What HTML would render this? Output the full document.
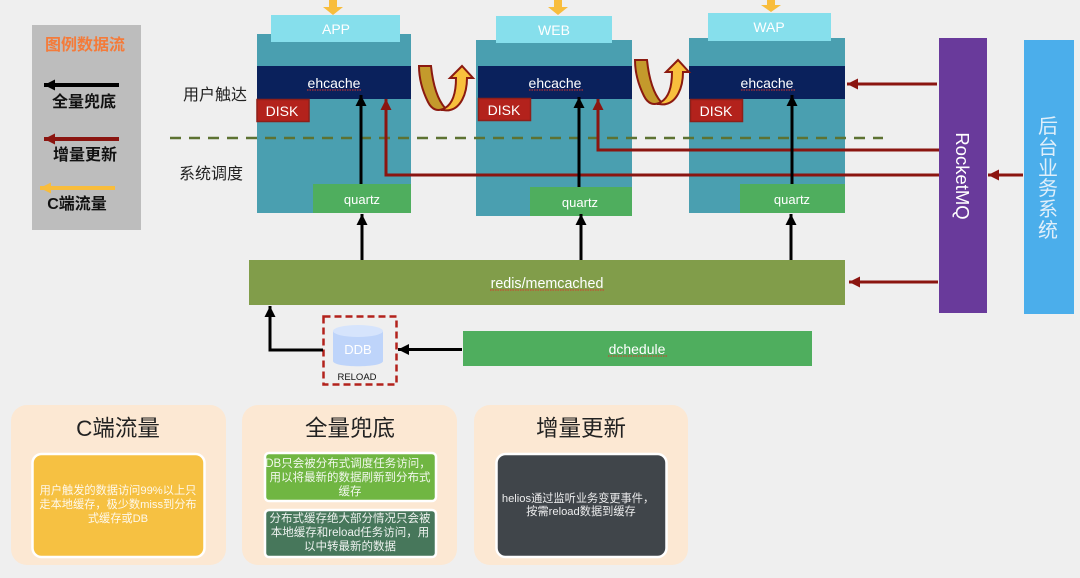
<!DOCTYPE html>
<html><head><meta charset="utf-8"><style>
html,body{margin:0;padding:0;background:#efefef}
svg{display:block;filter:blur(.35px)}
text{font-family:"Liberation Sans","Noto Sans CJK SC",sans-serif}
.w{fill:#fff;text-anchor:middle}
.sq{stroke:#d8362c;stroke-width:1;stroke-dasharray:1.5 1;fill:none}
.c{fill:#fff;font-size:11.5px;text-anchor:middle;opacity:.9}
.t{fill:#222;font-size:22.5px;text-anchor:middle}
</style></head><body>
<svg xmlns="http://www.w3.org/2000/svg" width="1080" height="578" viewBox="0 0 1080 578">
<defs>
<marker id="b" markerUnits="userSpaceOnUse" markerWidth="12" markerHeight="11" refX="11" refY="5.5" orient="auto"><path d="M0,0L11,5.5L0,11Z" fill="#000"/></marker>
<marker id="r" markerUnits="userSpaceOnUse" markerWidth="12" markerHeight="11" refX="11" refY="5.5" orient="auto"><path d="M0,0L11,5.5L0,11Z" fill="#8b1510"/></marker>
<marker id="y" markerUnits="userSpaceOnUse" markerWidth="12" markerHeight="11" refX="11" refY="5.5" orient="auto"><path d="M0,0L11,5.5L0,11Z" fill="#f8bd3c"/></marker>
<g id="u"><path d="M419,66L431,66C433,85 438,100 445,108C438,112 432,110 428,102C422,90 419,78 419,66Z" fill="#c49a2c" stroke="#8b1a10" stroke-width="2"/><path d="M445,108C452,104 456,95 456,78L450,78L462,66L473,78L467,78C467,95 460,108 450,110C447,111 445,110 443,110Z" fill="#f8c03d" stroke="#8b1a10" stroke-width="2"/></g>
</defs>
<rect width="1080" height="578" fill="#efefef"/>

<!-- legend -->
<rect x="32" y="25" width="109" height="205" fill="#bdbdbd"/>
<text x="85" y="50" font-size="16" font-weight="bold" fill="#f47b3a" text-anchor="middle">图例数据流</text>
<line x1="119" y1="85" x2="44" y2="85" stroke="#000" stroke-width="4" marker-end="url(#b)"/>
<text x="84" y="107" font-size="16" font-weight="bold" fill="#111" text-anchor="middle">全量兜底</text>
<line x1="119" y1="139" x2="44" y2="139" stroke="#8b1510" stroke-width="4" marker-end="url(#r)"/>
<text x="85" y="160" font-size="16" font-weight="bold" fill="#111" text-anchor="middle">增量更新</text>
<line x1="115" y1="188" x2="40" y2="188" stroke="#f8bd3c" stroke-width="4" marker-end="url(#y)"/>
<text x="77" y="209" font-size="16" font-weight="bold" fill="#111" text-anchor="middle">C端流量</text>

<text x="215" y="100" font-size="16" fill="#222" text-anchor="middle">用户触达</text>
<text x="211" y="179" font-size="16" fill="#222" text-anchor="middle">系统调度</text>

<!-- box 1 -->
<rect x="257" y="34" width="154" height="179" fill="#4a9fb0"/>
<rect x="271" y="15" width="129" height="27" fill="#86dfec"/>
<text class="w" x="336" y="34" font-size="14">APP</text>
<rect x="257" y="66" width="154" height="33" fill="#0a215c"/>
<text class="w" x="334" y="88" font-size="14">ehcache</text>
<line class="sq" x1="307" y1="90" x2="361" y2="90"/>
<rect x="257" y="99.500" width="52" height="22" fill="#b3221c" stroke="#8e1f19" stroke-width="1.500"/>
<text class="w" x="282" y="116" font-size="14">DISK</text>
<rect x="313" y="184" width="98" height="29" fill="#4fae5e"/>
<text class="w" x="362" y="204" font-size="13">quartz</text>

<!-- box 2 -->
<rect x="476" y="40" width="156" height="176" fill="#4a9fb0"/>
<rect x="496" y="16" width="116" height="27" fill="#86dfec"/>
<text class="w" x="554" y="35" font-size="14">WEB</text>
<rect x="478" y="66" width="154" height="33" fill="#0a215c"/>
<text class="w" x="555" y="88" font-size="14">ehcache</text>
<line class="sq" x1="529" y1="90" x2="583" y2="90"/>
<rect x="478.500" y="98.500" width="52" height="22" fill="#b3221c" stroke="#8e1f19" stroke-width="1.500"/>
<text class="w" x="504" y="115" font-size="14">DISK</text>
<rect x="530" y="187" width="102" height="29" fill="#4fae5e"/>
<text class="w" x="580" y="207" font-size="13">quartz</text>

<!-- box 3 -->
<rect x="689" y="38" width="156" height="175" fill="#4a9fb0"/>
<rect x="708" y="13" width="123" height="28" fill="#86dfec"/>
<text class="w" x="769" y="32" font-size="14">WAP</text>
<rect x="689" y="66" width="156" height="33" fill="#0a215c"/>
<text class="w" x="767" y="88" font-size="14">ehcache</text>
<line class="sq" x1="741" y1="90" x2="795" y2="90"/>
<rect x="690.500" y="99.500" width="52" height="22" fill="#b3221c" stroke="#8e1f19" stroke-width="1.500"/>
<text class="w" x="716" y="116" font-size="14">DISK</text>
<rect x="740" y="184" width="105" height="29" fill="#4fae5e"/>
<text class="w" x="792" y="204" font-size="13">quartz</text>

<!-- dashed divider -->
<line x1="170" y1="138" x2="883" y2="138" stroke="#5d7232" stroke-width="2.500" stroke-dasharray="11 8"/>

<!-- U arrows -->
<use href="#u"/>
<use href="#u" x="216" y="-6"/>

<!-- top yellow arrows -->
<path d="M329,0h8v7h6l-10,8l-10,-8h6z" fill="#f8bd3c"/>
<path d="M554,0h8v7h6l-10,8l-10,-8h6z" fill="#f8bd3c"/>
<path d="M767,0h8v5h6l-10,7l-10,-7h6z" fill="#f8bd3c"/>

<!-- red incremental -->
<polyline points="939,175 386,175 386,99" fill="none" stroke="#8b1510" stroke-width="3" marker-end="url(#r)"/>
<polyline points="939,150 598,150 598,99" fill="none" stroke="#8b1510" stroke-width="3" marker-end="url(#r)"/>
<line x1="937" y1="84" x2="847" y2="84" stroke="#8b1510" stroke-width="3" marker-end="url(#r)"/>
<line x1="938" y1="282" x2="849" y2="282" stroke="#8b1510" stroke-width="3" marker-end="url(#r)"/>
<line x1="1023" y1="175" x2="988" y2="175" stroke="#8b1510" stroke-width="3" marker-end="url(#r)"/>

<!-- black arrows -->
<line x1="361" y1="184" x2="361" y2="95" stroke="#000" stroke-width="3" marker-end="url(#b)"/>
<line x1="579" y1="187" x2="579" y2="97" stroke="#000" stroke-width="3" marker-end="url(#b)"/>
<line x1="792" y1="184" x2="792" y2="95" stroke="#000" stroke-width="3" marker-end="url(#b)"/>
<line x1="362" y1="261" x2="362" y2="214" stroke="#000" stroke-width="3" marker-end="url(#b)"/>
<line x1="581" y1="261" x2="581" y2="214" stroke="#000" stroke-width="3" marker-end="url(#b)"/>
<line x1="791" y1="261" x2="791" y2="214" stroke="#000" stroke-width="3" marker-end="url(#b)"/>

<!-- redis -->
<rect x="249" y="260" width="596" height="45" fill="#819d4a"/>
<text class="w" x="547" y="288" font-size="14.300">redis/memcached</text>
<line class="sq" x1="490" y1="290" x2="604" y2="290"/>

<!-- MQ / backend -->
<rect x="939" y="38" width="48" height="275" fill="#693a9b"/>
<text transform="translate(956,176) rotate(90)" fill="#fff" font-size="18.500" text-anchor="middle">RocketMQ</text>
<rect x="1024" y="40" width="50" height="274" fill="#4baeeb"/>
<text x="1038 1038 1038 1038 1038 1038" y="133 154 175 195 216 237" fill="#e0effa" font-size="20">后台业务系统</text>

<!-- dchedule + DDB -->
<rect x="463" y="331" width="349" height="35" fill="#4fae5e"/>
<text class="w" x="637" y="354" font-size="14">dchedule</text>
<line class="sq" x1="608" y1="356" x2="667" y2="356"/>
<rect x="323.500" y="316.500" width="73" height="68" fill="none" stroke="#b3221c" stroke-width="2.500" stroke-dasharray="7 4"/>
<path d="M333,331V361C333,368 383,368 383,361V331Z" fill="#bed4fa"/>
<ellipse cx="358" cy="331" rx="25" ry="6" fill="#d6e4fc"/>
<text class="w" x="358" y="354" font-size="13">DDB</text>
<text x="357" y="380" font-size="9.500" fill="#111" text-anchor="middle">RELOAD</text>
<line x1="462" y1="349.500" x2="398" y2="349.500" stroke="#000" stroke-width="3" marker-end="url(#b)"/>
<polyline points="323,350 270,350 270,306" fill="none" stroke="#000" stroke-width="3" marker-end="url(#b)"/>

<!-- bottom cards -->
<rect x="11" y="405" width="215" height="160" rx="16" fill="#fce8d3"/>
<rect x="242" y="405" width="215" height="160" rx="16" fill="#fce8d3"/>
<rect x="474" y="405" width="214" height="160" rx="16" fill="#fce8d3"/>
<text class="t" x="118" y="436" font-size="21">C端流量</text>
<text class="t" x="350" y="436">全量兜底</text>
<text class="t" x="581" y="436">增量更新</text>

<rect x="32.500" y="454" width="172" height="103" rx="9" fill="#f6c142" stroke="#fff" stroke-width="2.500"/>
<text class="c" x="118" y="494" style="font-size:11.200px">用户触发的数据访问99%以上只</text>
<text class="c" x="118" y="508" style="font-size:11.200px">走本地缓存，极少数miss到分布</text>
<text class="c" x="118" y="522" style="font-size:11.200px">式缓存或DB</text>

<rect x="265" y="453" width="171" height="48" rx="4" fill="#70b642" stroke="#fff" stroke-width="2.500"/>
<text class="c" x="348" y="467">DB只会被分布式调度任务访问，</text>
<text class="c" x="350" y="481">用以将最新的数据刷新到分布式</text>
<text class="c" x="350" y="495">缓存</text>

<rect x="265" y="510" width="171" height="47" rx="4" fill="#47775b" stroke="#fff" stroke-width="2.500"/>
<text class="c" x="350" y="522">分布式缓存绝大部分情况只会被</text>
<text class="c" x="350" y="536">本地缓存和reload任务访问，用</text>
<text class="c" x="350" y="550">以中转最新的数据</text>

<rect x="496.500" y="454" width="170" height="103" rx="9" fill="#40454a" stroke="#fff" stroke-width="2.500"/>
<text class="c" x="578" y="502" style="font-size:11.200px">helios通过监听业务变更事件，</text>
<text class="c" x="581" y="515" style="font-size:11.200px">按需reload数据到缓存</text>
</svg>
</body></html>
